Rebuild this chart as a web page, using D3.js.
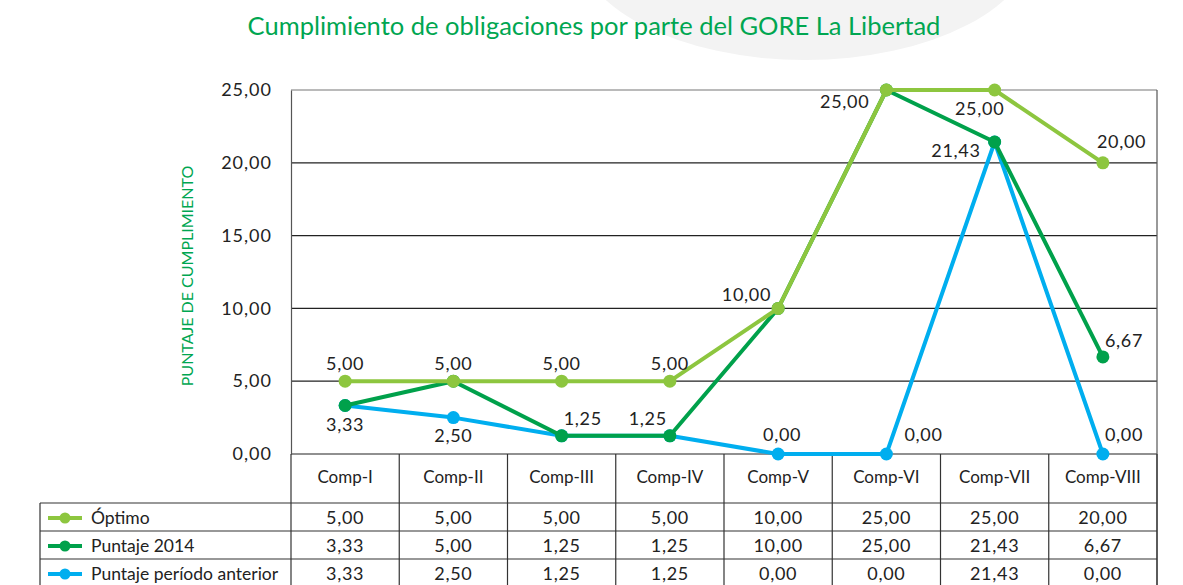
<!DOCTYPE html>
<html><head><meta charset="utf-8">
<script src="https://cdn.jsdelivr.net/npm/d3@7"></script>
<style>
body{margin:0;background:#fff}
svg{display:block}
text{font-family:Lato,"Open Sans",sans-serif}
</style>
</head><body>
<svg id="chart" width="1183" height="585"></svg>
<script>
// ---- data ----
const chartTitle = "Cumplimiento de obligaciones por parte del GORE La Libertad";
const yAxisTitle = "PUNTAJE DE CUMPLIMIENTO";
const categories = ["Comp-I","Comp-II","Comp-III","Comp-IV","Comp-V","Comp-VI","Comp-VII","Comp-VIII"];
const optimo = [5.00, 5.00, 5.00, 5.00, 10.00, 25.00, 25.00, 20.00];
const puntaje2014 = [3.33, 5.00, 1.25, 1.25, 10.00, 25.00, 21.43, 6.67];
const puntajeAnterior = [3.33, 2.50, 1.25, 1.25, 0.00, 0.00, 21.43, 0.00];
const seriesNames = ["Óptimo", "Puntaje 2014", "Puntaje período anterior"];
const yTicks = [0, 5, 10, 15, 20, 25];

// ---- style / layout ----
const colors = ["#8dc63f", "#00a14b", "#00aeef"];
const W = 1183, H = 585;
const plot = {left: 291, right: 1157, top: 90, bottom: 454};
const tableLeft = 40;
const headerBottom = 503;
const rowH = 28;
// data labels: series index, category index, offset and anchor
const labelSpec = [
  {s:0,i:0,dx:0,dy:-11,a:"middle"},
  {s:0,i:1,dx:0,dy:-11,a:"middle"},
  {s:0,i:2,dx:0,dy:-11,a:"middle"},
  {s:0,i:3,dx:0,dy:-11,a:"middle"},
  {s:0,i:4,dx:-7,dy:-7,a:"end"},
  {s:0,i:5,dx:-17,dy:18,a:"end"},
  {s:0,i:6,dx:-15,dy:25,a:"middle"},
  {s:0,i:7,dx:-6,dy:-15,a:"start"},
  {s:1,i:0,dx:0,dy:25,a:"middle"},
  {s:1,i:2,dx:2,dy:-11,a:"start"},
  {s:1,i:3,dx:-3,dy:-11,a:"end"},
  {s:1,i:6,dx:-14,dy:15,a:"end"},
  {s:1,i:7,dx:2,dy:-10,a:"start"},
  {s:2,i:1,dx:0,dy:24,a:"middle"},
  {s:2,i:4,dx:4,dy:-13,a:"middle"},
  {s:2,i:5,dx:18,dy:-13,a:"start"},
  {s:2,i:7,dx:2,dy:-13,a:"start"}
];

const locale = d3.formatLocale({decimal: ",", thousands: ".", grouping: [3], currency: ["", ""]});
const fmt = locale.format(".2f");

const svg = d3.select("#chart");
const series = [optimo, puntaje2014, puntajeAnterior];

// faint background watermark
svg.append("ellipse").attr("cx", 805).attr("cy", -60).attr("rx", 230).attr("ry", 120).attr("fill", "#f3f3f3");

const x = d3.scaleBand().domain(categories).range([plot.left, plot.right]);
const y = d3.scaleLinear().domain([0, 25]).range([plot.bottom, plot.top]);
const cx = c => x(c) + x.bandwidth() / 2;

// title
svg.append("text").attr("x", 594).attr("y", 35).attr("text-anchor", "middle")
  .attr("font-size", 25.5).attr("fill", "#00a651").text(chartTitle);

// y axis title
svg.append("text").attr("transform", `translate(193,${(plot.top + plot.bottom) / 2 + 4}) rotate(-90)`)
  .attr("text-anchor", "middle").attr("font-size", 16).attr("fill", "#00a651").text(yAxisTitle);

// gridlines
svg.append("g").selectAll("line").data(yTicks).join("line")
  .attr("x1", plot.left).attr("x2", plot.right)
  .attr("y1", d => y(d)).attr("y2", d => y(d))
  .attr("stroke", d => d === 25 ? "#777" : "#222").attr("stroke-width", 1.2);

// y axis labels
const yAxis = d3.axisLeft(y).tickValues(yTicks).tickFormat(fmt).tickSize(0).tickPadding(19);
const ya = svg.append("g").attr("transform", `translate(${plot.left},0)`).call(yAxis);
ya.select(".domain").attr("stroke", "#555").attr("stroke-width", 1.2);
ya.selectAll("text").attr("font-size", 18).attr("fill", "#222").attr("font-family", "Lato")
  .attr("letter-spacing", 1);

// right frame
svg.append("line").attr("x1", plot.right).attr("x2", plot.right).attr("y1", plot.top).attr("y2", H)
  .attr("stroke", "#555").attr("stroke-width", 1.2);

// table grid
const tg = svg.append("g").attr("stroke", "#333").attr("stroke-width", 1.2);
const bounds = categories.map(c => x(c)).concat([plot.right]);
tg.selectAll("line.v").data(bounds).join("line")
  .attr("x1", d => d).attr("x2", d => d).attr("y1", plot.bottom).attr("y2", H);
tg.append("line").attr("x1", tableLeft).attr("x2", tableLeft).attr("y1", headerBottom).attr("y2", H);
tg.selectAll("line.h").data([0, 1, 2]).join("line")
  .attr("x1", tableLeft).attr("x2", plot.right)
  .attr("y1", d => headerBottom + d * rowH).attr("y2", d => headerBottom + d * rowH);

// header labels
svg.append("g").selectAll("text").data(categories).join("text")
  .attr("x", d => cx(d)).attr("y", (plot.bottom + headerBottom) / 2 - 1)
  .attr("dy", "0.35em").attr("text-anchor", "middle").attr("font-size", 17).attr("fill", "#222")
  .text(d => d);

// table rows
series.forEach((vals, s) => {
  const ry = headerBottom + s * rowH + rowH / 2 + 1;
  const g = svg.append("g");
  g.append("line").attr("x1", 48).attr("x2", 82).attr("y1", ry).attr("y2", ry)
    .attr("stroke", colors[s]).attr("stroke-width", 4);
  g.append("circle").attr("cx", 65).attr("cy", ry).attr("r", 5.5).attr("fill", colors[s]);
  g.append("text").attr("x", 91).attr("y", ry).attr("dy", "0.35em").attr("font-size", 17.5)
    .attr("fill", "#222").text(seriesNames[s]);
  g.selectAll("text.v").data(vals).join("text")
    .attr("x", (d, i) => cx(categories[i])).attr("y", ry).attr("dy", "0.35em")
    .attr("text-anchor", "middle").attr("font-size", 18).attr("letter-spacing", 0.7)
    .attr("fill", "#222").text(d => fmt(d));
});

// lines & points (draw order: anterior, 2014, óptimo)
const line = d3.line().x((d, i) => cx(categories[i])).y(d => y(d));
[2, 1, 0].forEach(s => {
  svg.append("path").datum(series[s]).attr("d", line).attr("fill", "none")
    .attr("stroke", colors[s]).attr("stroke-width", 4).attr("stroke-linejoin", "round");
  svg.append("g").selectAll("circle").data(series[s]).join("circle")
    .attr("cx", (d, i) => cx(categories[i])).attr("cy", d => y(d)).attr("r", 6.5).attr("fill", colors[s]);
});

// data labels
svg.append("g").selectAll("text").data(labelSpec).join("text")
  .attr("x", d => cx(categories[d.i]) + d.dx)
  .attr("y", d => y(series[d.s][d.i]) + d.dy)
  .attr("text-anchor", d => d.a).attr("font-size", 18).attr("letter-spacing", 0.7).attr("fill", "#222")
  .text(d => fmt(series[d.s][d.i]));
</script>
</body></html>
